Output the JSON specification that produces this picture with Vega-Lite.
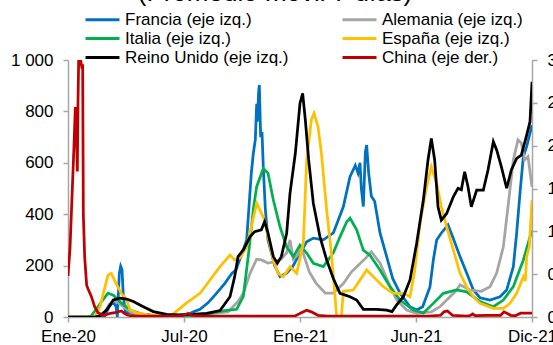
{
"$schema":"https://vega.github.io/schema/vega-lite/v6.json",
"width":464,"height":257,
"autosize":{"type":"none"},
"padding":{"left":68,"top":60,"right":21,"bottom":28},
"background":"white",
"config":{"font":"Liberation Sans","view":{"stroke":null}},
"title":{"text":"(Promedio móvil 7 días)","fontSize":26,"fontWeight":"normal","frame":"group","anchor":"middle","dx":-25,"offset":5,"color":"black","font":"Liberation Sans"},
"datasets":{
"izq":[
{"d":"2020-01-22","s":"Francia","v":0},{"d":"2020-03-02","s":"Francia","v":0},{"d":"2020-03-17","s":"Francia","v":5},{"d":"2020-03-24","s":"Francia","v":40},{"d":"2020-03-30","s":"Francia","v":60},{"d":"2020-04-03","s":"Francia","v":40},{"d":"2020-04-05","s":"Francia","v":0},{"d":"2020-04-08","s":"Francia","v":170},{"d":"2020-04-10","s":"Francia","v":198},{"d":"2020-04-12","s":"Francia","v":185},{"d":"2020-04-14","s":"Francia","v":80},{"d":"2020-04-17","s":"Francia","v":20},{"d":"2020-05-01","s":"Francia","v":12},{"d":"2020-05-31","s":"Francia","v":5},{"d":"2020-06-30","s":"Francia","v":5},{"d":"2020-07-20","s":"Francia","v":10},{"d":"2020-07-28","s":"Francia","v":20},{"d":"2020-08-07","s":"Francia","v":30},{"d":"2020-08-19","s":"Francia","v":55},{"d":"2020-08-31","s":"Francia","v":90},{"d":"2020-09-13","s":"Francia","v":130},{"d":"2020-09-24","s":"Francia","v":170},{"d":"2020-09-30","s":"Francia","v":183},{"d":"2020-10-10","s":"Francia","v":255},{"d":"2020-10-16","s":"Francia","v":300},{"d":"2020-10-23","s":"Francia","v":560},{"d":"2020-10-26","s":"Francia","v":637},{"d":"2020-10-29","s":"Francia","v":690},{"d":"2020-10-31","s":"Francia","v":830},{"d":"2020-11-01","s":"Francia","v":760},{"d":"2020-11-03","s":"Francia","v":880},{"d":"2020-11-04","s":"Francia","v":903},{"d":"2020-11-06","s":"Francia","v":700},{"d":"2020-11-08","s":"Francia","v":720},{"d":"2020-11-10","s":"Francia","v":580},{"d":"2020-11-13","s":"Francia","v":420},{"d":"2020-11-17","s":"Francia","v":300},{"d":"2020-11-27","s":"Francia","v":200},{"d":"2020-12-05","s":"Francia","v":157},{"d":"2020-12-15","s":"Francia","v":171},{"d":"2020-12-24","s":"Francia","v":196},{"d":"2021-01-04","s":"Francia","v":249},{"d":"2021-01-14","s":"Francia","v":293},{"d":"2021-01-24","s":"Francia","v":307},{"d":"2021-02-08","s":"Francia","v":300},{"d":"2021-02-23","s":"Francia","v":327},{"d":"2021-03-10","s":"Francia","v":429},{"d":"2021-03-20","s":"Francia","v":546},{"d":"2021-03-28","s":"Francia","v":590},{"d":"2021-04-01","s":"Francia","v":560},{"d":"2021-04-04","s":"Francia","v":600},{"d":"2021-04-06","s":"Francia","v":500},{"d":"2021-04-09","s":"Francia","v":430},{"d":"2021-04-12","s":"Francia","v":640},{"d":"2021-04-14","s":"Francia","v":669},{"d":"2021-04-17","s":"Francia","v":560},{"d":"2021-04-21","s":"Francia","v":470},{"d":"2021-04-26","s":"Francia","v":450},{"d":"2021-05-04","s":"Francia","v":327},{"d":"2021-05-14","s":"Francia","v":235},{"d":"2021-05-23","s":"Francia","v":150},{"d":"2021-06-03","s":"Francia","v":93},{"d":"2021-06-18","s":"Francia","v":40},{"d":"2021-06-28","s":"Francia","v":27},{"d":"2021-07-07","s":"Francia","v":40},{"d":"2021-07-18","s":"Francia","v":118},{"d":"2021-07-23","s":"Francia","v":222},{"d":"2021-07-28","s":"Francia","v":300},{"d":"2021-08-04","s":"Francia","v":327},{"d":"2021-08-14","s":"Francia","v":358},{"d":"2021-08-21","s":"Francia","v":312},{"d":"2021-09-01","s":"Francia","v":235},{"d":"2021-09-11","s":"Francia","v":171},{"d":"2021-09-21","s":"Francia","v":105},{"d":"2021-10-01","s":"Francia","v":75},{"d":"2021-10-16","s":"Francia","v":66},{"d":"2021-10-31","s":"Francia","v":79},{"d":"2021-11-10","s":"Francia","v":105},{"d":"2021-11-20","s":"Francia","v":196},{"d":"2021-11-25","s":"Francia","v":327},{"d":"2021-11-30","s":"Francia","v":482},{"d":"2021-12-05","s":"Francia","v":624},{"d":"2021-12-10","s":"Francia","v":663},{"d":"2021-12-18","s":"Francia","v":747},
{"d":"2020-01-22","s":"Alemania","v":0},{"d":"2020-03-07","s":"Alemania","v":2},{"d":"2020-03-17","s":"Alemania","v":20},{"d":"2020-03-24","s":"Alemania","v":50},{"d":"2020-04-01","s":"Alemania","v":65},{"d":"2020-04-07","s":"Alemania","v":55},{"d":"2020-04-16","s":"Alemania","v":35},{"d":"2020-04-26","s":"Alemania","v":18},{"d":"2020-05-11","s":"Alemania","v":8},{"d":"2020-06-09","s":"Alemania","v":5},{"d":"2020-07-10","s":"Alemania","v":5},{"d":"2020-08-09","s":"Alemania","v":12},{"d":"2020-09-03","s":"Alemania","v":16},{"d":"2020-09-18","s":"Alemania","v":20},{"d":"2020-10-03","s":"Alemania","v":60},{"d":"2020-10-11","s":"Alemania","v":92},{"d":"2020-10-21","s":"Alemania","v":170},{"d":"2020-10-31","s":"Alemania","v":225},{"d":"2020-11-07","s":"Alemania","v":222},{"d":"2020-11-17","s":"Alemania","v":210},{"d":"2020-11-27","s":"Alemania","v":215},{"d":"2020-12-07","s":"Alemania","v":225},{"d":"2020-12-15","s":"Alemania","v":250},{"d":"2020-12-20","s":"Alemania","v":300},{"d":"2020-12-25","s":"Alemania","v":225},{"d":"2020-12-31","s":"Alemania","v":240},{"d":"2021-01-06","s":"Alemania","v":270},{"d":"2021-01-11","s":"Alemania","v":230},{"d":"2021-01-18","s":"Alemania","v":175},{"d":"2021-01-28","s":"Alemania","v":132},{"d":"2021-02-11","s":"Alemania","v":93},{"d":"2021-02-23","s":"Alemania","v":93},{"d":"2021-03-10","s":"Alemania","v":130},{"d":"2021-03-22","s":"Alemania","v":175},{"d":"2021-04-01","s":"Alemania","v":200},{"d":"2021-04-13","s":"Alemania","v":230},{"d":"2021-04-21","s":"Alemania","v":254},{"d":"2021-05-04","s":"Alemania","v":210},{"d":"2021-05-17","s":"Alemania","v":132},{"d":"2021-05-29","s":"Alemania","v":66},{"d":"2021-06-13","s":"Alemania","v":27},{"d":"2021-06-28","s":"Alemania","v":14},{"d":"2021-07-20","s":"Alemania","v":20},{"d":"2021-08-02","s":"Alemania","v":40},{"d":"2021-08-17","s":"Alemania","v":79},{"d":"2021-08-27","s":"Alemania","v":105},{"d":"2021-09-01","s":"Alemania","v":125},{"d":"2021-09-16","s":"Alemania","v":105},{"d":"2021-10-03","s":"Alemania","v":100},{"d":"2021-10-16","s":"Alemania","v":118},{"d":"2021-10-26","s":"Alemania","v":171},{"d":"2021-11-05","s":"Alemania","v":273},{"d":"2021-11-12","s":"Alemania","v":429},{"d":"2021-11-20","s":"Alemania","v":611},{"d":"2021-11-27","s":"Alemania","v":689},{"d":"2021-12-02","s":"Alemania","v":677},{"d":"2021-12-07","s":"Alemania","v":611},{"d":"2021-12-12","s":"Alemania","v":624},{"d":"2021-12-18","s":"Alemania","v":507},
{"d":"2020-01-22","s":"Italia","v":0},{"d":"2020-02-21","s":"Italia","v":0},{"d":"2020-02-26","s":"Italia","v":5},{"d":"2020-03-07","s":"Italia","v":40},{"d":"2020-03-14","s":"Italia","v":66},{"d":"2020-03-22","s":"Italia","v":93},{"d":"2020-03-30","s":"Italia","v":85},{"d":"2020-04-13","s":"Italia","v":50},{"d":"2020-04-26","s":"Italia","v":25},{"d":"2020-05-11","s":"Italia","v":12},{"d":"2020-05-31","s":"Italia","v":5},{"d":"2020-07-20","s":"Italia","v":4},{"d":"2020-08-19","s":"Italia","v":12},{"d":"2020-09-13","s":"Italia","v":25},{"d":"2020-10-01","s":"Italia","v":30},{"d":"2020-10-11","s":"Italia","v":80},{"d":"2020-10-19","s":"Italia","v":250},{"d":"2020-10-26","s":"Italia","v":420},{"d":"2020-10-31","s":"Italia","v":507},{"d":"2020-11-10","s":"Italia","v":578},{"d":"2020-11-17","s":"Italia","v":560},{"d":"2020-11-25","s":"Italia","v":455},{"d":"2020-12-05","s":"Italia","v":351},{"d":"2020-12-15","s":"Italia","v":273},{"d":"2020-12-25","s":"Italia","v":235},{"d":"2021-01-04","s":"Italia","v":280},{"d":"2021-01-14","s":"Italia","v":249},{"d":"2021-01-24","s":"Italia","v":209},{"d":"2021-02-08","s":"Italia","v":196},{"d":"2021-02-23","s":"Italia","v":250},{"d":"2021-03-05","s":"Italia","v":312},{"d":"2021-03-15","s":"Italia","v":370},{"d":"2021-03-20","s":"Italia","v":385},{"d":"2021-03-30","s":"Italia","v":339},{"d":"2021-04-09","s":"Italia","v":260},{"d":"2021-04-19","s":"Italia","v":240},{"d":"2021-05-04","s":"Italia","v":183},{"d":"2021-05-19","s":"Italia","v":118},{"d":"2021-06-03","s":"Italia","v":66},{"d":"2021-06-23","s":"Italia","v":27},{"d":"2021-07-08","s":"Italia","v":16},{"d":"2021-07-23","s":"Italia","v":53},{"d":"2021-08-07","s":"Italia","v":92},{"d":"2021-08-27","s":"Italia","v":105},{"d":"2021-09-11","s":"Italia","v":98},{"d":"2021-10-01","s":"Italia","v":60},{"d":"2021-10-21","s":"Italia","v":40},{"d":"2021-11-05","s":"Italia","v":66},{"d":"2021-11-20","s":"Italia","v":118},{"d":"2021-12-05","s":"Italia","v":222},{"d":"2021-12-18","s":"Italia","v":339},
{"d":"2020-01-22","s":"España","v":0},{"d":"2020-03-02","s":"España","v":0},{"d":"2020-03-10","s":"España","v":40},{"d":"2020-03-15","s":"España","v":92},{"d":"2020-03-22","s":"España","v":163},{"d":"2020-03-27","s":"España","v":170},{"d":"2020-04-03","s":"España","v":131},{"d":"2020-04-11","s":"España","v":92},{"d":"2020-04-19","s":"España","v":66},{"d":"2020-04-24","s":"España","v":27},{"d":"2020-05-04","s":"España","v":16},{"d":"2020-05-21","s":"España","v":8},{"d":"2020-06-19","s":"España","v":5},{"d":"2020-06-27","s":"España","v":10},{"d":"2020-07-17","s":"España","v":53},{"d":"2020-08-07","s":"España","v":92},{"d":"2020-08-22","s":"España","v":144},{"d":"2020-09-06","s":"España","v":196},{"d":"2020-09-21","s":"España","v":241},{"d":"2020-09-28","s":"España","v":222},{"d":"2020-10-06","s":"España","v":230},{"d":"2020-10-16","s":"España","v":273},{"d":"2020-10-23","s":"España","v":351},{"d":"2020-10-31","s":"España","v":442},{"d":"2020-11-05","s":"España","v":416},{"d":"2020-11-12","s":"España","v":377},{"d":"2020-11-17","s":"España","v":312},{"d":"2020-11-25","s":"España","v":222},{"d":"2020-12-02","s":"España","v":170},{"d":"2020-12-10","s":"España","v":157},{"d":"2020-12-20","s":"España","v":196},{"d":"2020-12-30","s":"España","v":170},{"d":"2021-01-09","s":"España","v":287},{"d":"2021-01-14","s":"España","v":611},{"d":"2021-01-21","s":"España","v":767},{"d":"2021-01-25","s":"España","v":793},{"d":"2021-01-31","s":"España","v":740},{"d":"2021-02-05","s":"España","v":640},{"d":"2021-02-13","s":"España","v":416},{"d":"2021-02-20","s":"España","v":250},{"d":"2021-02-25","s":"España","v":100},{"d":"2021-02-28","s":"España","v":0},{"d":"2021-03-07","s":"España","v":0},{"d":"2021-03-10","s":"España","v":100},{"d":"2021-03-25","s":"España","v":105},{"d":"2021-04-04","s":"España","v":144},{"d":"2021-04-14","s":"España","v":183},{"d":"2021-04-24","s":"España","v":157},{"d":"2021-05-09","s":"España","v":118},{"d":"2021-05-24","s":"España","v":92},{"d":"2021-06-08","s":"España","v":92},{"d":"2021-06-18","s":"España","v":79},{"d":"2021-06-25","s":"España","v":180},{"d":"2021-07-03","s":"España","v":364},{"d":"2021-07-13","s":"España","v":507},{"d":"2021-07-20","s":"España","v":585},{"d":"2021-07-28","s":"España","v":520},{"d":"2021-08-04","s":"España","v":429},{"d":"2021-08-12","s":"España","v":351},{"d":"2021-08-22","s":"España","v":261},{"d":"2021-09-01","s":"España","v":170},{"d":"2021-09-11","s":"España","v":118},{"d":"2021-09-21","s":"España","v":79},{"d":"2021-10-01","s":"España","v":53},{"d":"2021-10-21","s":"España","v":34},{"d":"2021-11-05","s":"España","v":34},{"d":"2021-11-15","s":"España","v":53},{"d":"2021-11-25","s":"España","v":92},{"d":"2021-12-05","s":"España","v":157},{"d":"2021-12-08","s":"España","v":140},{"d":"2021-12-10","s":"España","v":235},{"d":"2021-12-14","s":"España","v":273},{"d":"2021-12-18","s":"España","v":455},
{"d":"2020-01-22","s":"Reino Unido","v":0},{"d":"2020-03-02","s":"Reino Unido","v":0},{"d":"2020-03-10","s":"Reino Unido","v":5},{"d":"2020-03-20","s":"Reino Unido","v":27},{"d":"2020-03-30","s":"Reino Unido","v":66},{"d":"2020-04-09","s":"Reino Unido","v":73},{"d":"2020-04-19","s":"Reino Unido","v":70},{"d":"2020-04-29","s":"Reino Unido","v":60},{"d":"2020-05-14","s":"Reino Unido","v":40},{"d":"2020-05-29","s":"Reino Unido","v":21},{"d":"2020-06-18","s":"Reino Unido","v":10},{"d":"2020-07-08","s":"Reino Unido","v":8},{"d":"2020-07-28","s":"Reino Unido","v":10},{"d":"2020-08-17","s":"Reino Unido","v":14},{"d":"2020-09-06","s":"Reino Unido","v":25},{"d":"2020-09-21","s":"Reino Unido","v":79},{"d":"2020-09-28","s":"Reino Unido","v":157},{"d":"2020-10-03","s":"Reino Unido","v":235},{"d":"2020-10-11","s":"Reino Unido","v":261},{"d":"2020-10-21","s":"Reino Unido","v":312},{"d":"2020-10-28","s":"Reino Unido","v":332},{"d":"2020-11-07","s":"Reino Unido","v":339},{"d":"2020-11-12","s":"Reino Unido","v":371},{"d":"2020-11-17","s":"Reino Unido","v":326},{"d":"2020-11-25","s":"Reino Unido","v":235},{"d":"2020-12-01","s":"Reino Unido","v":209},{"d":"2020-12-07","s":"Reino Unido","v":235},{"d":"2020-12-15","s":"Reino Unido","v":326},{"d":"2020-12-20","s":"Reino Unido","v":481},{"d":"2020-12-28","s":"Reino Unido","v":637},{"d":"2021-01-04","s":"Reino Unido","v":832},{"d":"2021-01-08","s":"Reino Unido","v":870},{"d":"2021-01-12","s":"Reino Unido","v":767},{"d":"2021-01-17","s":"Reino Unido","v":611},{"d":"2021-01-24","s":"Reino Unido","v":442},{"d":"2021-02-03","s":"Reino Unido","v":312},{"d":"2021-02-13","s":"Reino Unido","v":222},{"d":"2021-02-23","s":"Reino Unido","v":150},{"d":"2021-03-05","s":"Reino Unido","v":92},{"d":"2021-03-20","s":"Reino Unido","v":79},{"d":"2021-03-30","s":"Reino Unido","v":66},{"d":"2021-04-09","s":"Reino Unido","v":30},{"d":"2021-04-29","s":"Reino Unido","v":30},{"d":"2021-05-14","s":"Reino Unido","v":27},{"d":"2021-05-22","s":"Reino Unido","v":21},{"d":"2021-05-29","s":"Reino Unido","v":47},{"d":"2021-06-08","s":"Reino Unido","v":79},{"d":"2021-06-18","s":"Reino Unido","v":144},{"d":"2021-06-28","s":"Reino Unido","v":287},{"d":"2021-07-08","s":"Reino Unido","v":455},{"d":"2021-07-15","s":"Reino Unido","v":611},{"d":"2021-07-20","s":"Reino Unido","v":695},{"d":"2021-07-25","s":"Reino Unido","v":611},{"d":"2021-07-30","s":"Reino Unido","v":429},{"d":"2021-08-04","s":"Reino Unido","v":377},{"d":"2021-08-12","s":"Reino Unido","v":403},{"d":"2021-08-22","s":"Reino Unido","v":468},{"d":"2021-08-29","s":"Reino Unido","v":501},{"d":"2021-09-03","s":"Reino Unido","v":495},{"d":"2021-09-08","s":"Reino Unido","v":565},{"d":"2021-09-13","s":"Reino Unido","v":507},{"d":"2021-09-18","s":"Reino Unido","v":429},{"d":"2021-09-26","s":"Reino Unido","v":494},{"d":"2021-10-06","s":"Reino Unido","v":494},{"d":"2021-10-13","s":"Reino Unido","v":572},{"d":"2021-10-21","s":"Reino Unido","v":682},{"d":"2021-10-26","s":"Reino Unido","v":650},{"d":"2021-11-02","s":"Reino Unido","v":585},{"d":"2021-11-10","s":"Reino Unido","v":501},{"d":"2021-11-17","s":"Reino Unido","v":572},{"d":"2021-11-25","s":"Reino Unido","v":617},{"d":"2021-12-02","s":"Reino Unido","v":630},{"d":"2021-12-10","s":"Reino Unido","v":708},{"d":"2021-12-15","s":"Reino Unido","v":760},{"d":"2021-12-18","s":"Reino Unido","v":915}
],
"der":[
{"d":"2020-01-22","s":"China","v":0.48},{"d":"2020-01-25","s":"China","v":0.8},{"d":"2020-01-28","s":"China","v":1.4},{"d":"2020-01-31","s":"China","v":2.0},{"d":"2020-02-02","s":"China","v":2.45},{"d":"2020-02-03","s":"China","v":2.4},{"d":"2020-02-05","s":"China","v":1.7},{"d":"2020-02-06","s":"China","v":2.5},{"d":"2020-02-07","s":"China","v":3.0},{"d":"2020-02-10","s":"China","v":3.0},{"d":"2020-02-12","s":"China","v":2.9},{"d":"2020-02-13","s":"China","v":2.95},{"d":"2020-02-14","s":"China","v":1.2},{"d":"2020-02-16","s":"China","v":0.7},{"d":"2020-02-19","s":"China","v":0.37},{"d":"2020-02-21","s":"China","v":0.33},{"d":"2020-02-26","s":"China","v":0.24},{"d":"2020-03-02","s":"China","v":0.12},{"d":"2020-03-07","s":"China","v":0.05},{"d":"2020-03-12","s":"China","v":0.03},{"d":"2020-03-17","s":"China","v":0.02},{"d":"2020-03-24","s":"China","v":0.04},{"d":"2020-04-01","s":"China","v":0.05},{"d":"2020-04-11","s":"China","v":0.07},{"d":"2020-04-16","s":"China","v":0.04},{"d":"2020-04-21","s":"China","v":0.02},{"d":"2020-05-01","s":"China","v":0.01},{"d":"2020-07-10","s":"China","v":0.01},{"d":"2020-07-20","s":"China","v":0.04},{"d":"2020-07-26","s":"China","v":0.02},{"d":"2020-08-09","s":"China","v":0.01},{"d":"2020-12-27","s":"China","v":0.01},{"d":"2021-01-06","s":"China","v":0.05},{"d":"2021-01-14","s":"China","v":0.08},{"d":"2021-01-21","s":"China","v":0.06},{"d":"2021-01-31","s":"China","v":0.02},{"d":"2021-02-15","s":"China","v":0.01},{"d":"2021-07-15","s":"China","v":0.01},{"d":"2021-08-03","s":"China","v":0.02},{"d":"2021-08-08","s":"China","v":0.06},{"d":"2021-08-13","s":"China","v":0.07},{"d":"2021-08-21","s":"China","v":0.02},{"d":"2021-09-12","s":"China","v":0.01},{"d":"2021-09-17","s":"China","v":0.02},{"d":"2021-09-20","s":"China","v":0.035},{"d":"2021-09-24","s":"China","v":0.015},{"d":"2021-10-12","s":"China","v":0.02},{"d":"2021-11-01","s":"China","v":0.02},{"d":"2021-11-06","s":"China","v":0.06},{"d":"2021-11-11","s":"China","v":0.04},{"d":"2021-11-16","s":"China","v":0.02},{"d":"2021-11-23","s":"China","v":0.015},{"d":"2021-12-01","s":"China","v":0.045},{"d":"2021-12-18","s":"China","v":0.045}
]
},
"layer":[
{"data":{"name":"izq"},
 "mark":{"type":"line","strokeWidth":2.75,"clip":true},
 "encoding":{
  "x":{"field":"d","type":"temporal","scale":{"type":"utc","domain":[{"year":2020,"month":1,"date":22,"utc":true},{"year":2021,"month":12,"date":18,"utc":true}]},
   "axis":{"title":null,"grid":false,"values":[{"year":2020,"month":1,"date":22,"utc":true},{"year":2020,"month":7,"date":14,"utc":true},{"year":2021,"month":1,"date":4,"utc":true},{"year":2021,"month":6,"date":27,"utc":true},{"year":2021,"month":12,"date":18,"utc":true}],
   "labelExpr":"['Ene','Feb','Mar','Abr','May','Jun','Jul','Ago','Sep','Oct','Nov','Dic'][utcmonth(datum.value)] + '-' + utcFormat(datum.value, '%y')",
   "domainColor":"#A6A6A6","domainWidth":1.5,"tickColor":"#A6A6A6","tickWidth":1.5,"tickSize":5,"labelFontSize":17,"labelColor":"black","labelPadding":6,"labelFlush":false,"labelOverlap":false,"labelFont":"Liberation Sans"}},
  "y":{"field":"v","type":"quantitative","scale":{"domain":[0,1000],"nice":false},
   "axis":{"title":null,"grid":false,"values":[0,200,400,600,800,1000],"labelExpr":"replace(format(datum.value, ','), ',', ' ')",
   "domainColor":"#A6A6A6","domainWidth":1.5,"tickColor":"#A6A6A6","tickWidth":1.5,"tickSize":5,"labelFontSize":17,"labelColor":"black","labelPadding":10,"labelFont":"Liberation Sans"}},
  "color":{"field":"s","type":"nominal",
   "scale":{"domain":["Francia","Alemania","Italia","España","Reino Unido","China"],"range":["#0070C0","#A5A5A5","#00B050","#FFC000","#000000","#C00000"]},
   "legend":{"title":null,"orient":"none","legendX":26,"legendY":-49,"columns":2,"direction":"horizontal","symbolType":"M-3,0H3","symbolSize":128,"symbolStrokeWidth":3,"labelFontSize":17,"labelFont":"Liberation Sans","labelColor":"black","labelOffset":14,"labelLimit":300,"columnPadding":47,"rowPadding":1,"padding":0,
   "labelExpr":"datum.label + (datum.label == 'China' ? ' (eje der.)' : ' (eje izq.)')"}}
 }},
{"data":{"name":"der"},
 "mark":{"type":"line","strokeWidth":2.75,"clip":true},
 "encoding":{
  "x":{"field":"d","type":"temporal"},
  "y":{"field":"v","type":"quantitative","scale":{"domain":[0,3],"nice":false},
   "axis":{"title":null,"grid":false,"orient":"right","values":[0,0.5,1,1.5,2,2.5,3],"labelExpr":"replace(format(datum.value, '.1~f'), '.', ',')",
   "domainColor":"#A6A6A6","domainWidth":1.5,"tickColor":"#A6A6A6","tickWidth":1.5,"tickSize":5,"labelFontSize":17,"labelColor":"black","labelPadding":10,"labelFont":"Liberation Sans"}},
  "color":{"field":"s","type":"nominal"}
 }}
],
"resolve":{"scale":{"y":"independent"}}
}
